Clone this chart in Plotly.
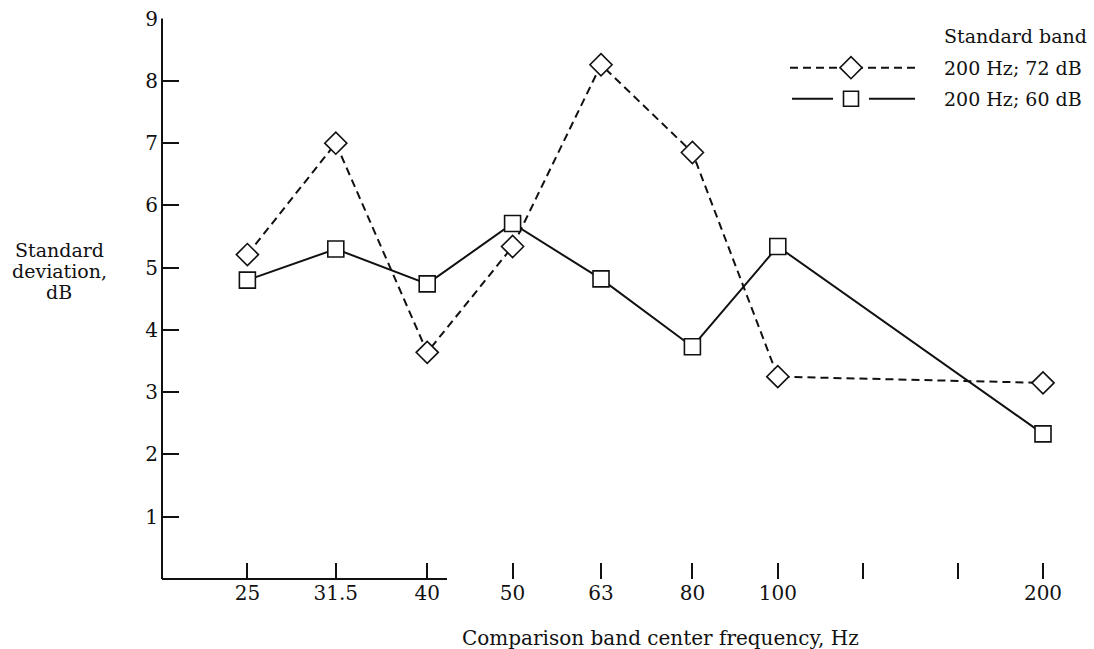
import math
import plotly.graph_objects as go

# ---- data ----
freqs = [25, 31.5, 40, 50, 63, 80, 100, 200]
sd_72db = [5.21, 7.0, 3.64, 5.34, 8.26, 6.85, 3.25, 3.15]
sd_60db = [4.80, 5.30, 4.74, 5.71, 4.82, 3.73, 5.34, 2.33]
x_tickvals = [25, 31.5, 40, 50, 63, 80, 100, 125, 160, 200]
x_ticktext = ["25", "31.5", "40", "50", "63", "80", "100", "", "", "200"]
y_tickvals = [1, 2, 3, 4, 5, 6, 7, 8, 9]
legend_title = "Standard band"
name_72 = "200 Hz; 72 dB"
name_60 = "200 Hz; 60 dB"
x_title = "Comparison band center frequency, Hz"
y_title_lines = ["Standard", "deviation,", "dB"]

FONT = "DejaVu Serif"
INK = "#111111"
FS = 20
FS_SMALL = 19

W, H = 1094, 649
L, R, T, B = 162, 1060, 19, 579
YMAX = 9.01
T_ADJ = T - (YMAX - 9) * (B - T) / 9  # keep 9 at the same pixel


def px(xs):
    return (xs - L) / (R - L)


def py(ys):
    return (B - ys) / (B - T_ADJ)


fig = go.Figure()

fig.add_trace(go.Scatter(
    x=freqs, y=sd_72db, mode="lines+markers", name=name_72,
    line=dict(color=INK, width=2, dash="8px,5px"),
    marker=dict(symbol="diamond", size=17, color="white",
                line=dict(color=INK, width=1.6)),
    showlegend=False,
))
fig.add_trace(go.Scatter(
    x=freqs, y=sd_60db, mode="lines+markers", name=name_60,
    line=dict(color=INK, width=2),
    marker=dict(symbol="square", size=16, color="white",
                line=dict(color=INK, width=1.6)),
    showlegend=False,
))

# ---- hand-made legend on an overlay axis in screenshot pixels ----
fig.add_trace(go.Scatter(x=[790, 915], y=[68, 68], xaxis="x2", yaxis="y2",
                         mode="lines", line=dict(color=INK, width=2, dash="8px,5px"),
                         showlegend=False, hoverinfo="skip"))
fig.add_trace(go.Scatter(x=[851], y=[68], xaxis="x2", yaxis="y2", mode="markers",
                         marker=dict(symbol="diamond", size=17, color="white",
                                     line=dict(color=INK, width=1.6)),
                         showlegend=False, hoverinfo="skip"))
fig.add_trace(go.Scatter(x=[792, 833, None, 869, 915], y=[99, 99, None, 99, 99],
                         xaxis="x2", yaxis="y2", mode="lines",
                         line=dict(color=INK, width=2),
                         showlegend=False, hoverinfo="skip"))
fig.add_trace(go.Scatter(x=[851], y=[99], xaxis="x2", yaxis="y2", mode="markers",
                         marker=dict(symbol="square", size=15, color="white",
                                     line=dict(color=INK, width=1.6)),
                         showlegend=False, hoverinfo="skip"))

small_font = dict(family=FONT, size=FS_SMALL, color=INK)
for txt, yy in [(legend_title, 36), (name_72, 68), (name_60, 99)]:
    fig.add_annotation(x=px(942), y=py(yy), xref="paper", yref="paper", text=txt,
                       showarrow=False, xanchor="left", yanchor="middle", font=small_font)

for txt, yy in zip(y_title_lines, [250, 271, 292]):
    fig.add_annotation(x=px(59), y=py(yy), xref="paper", yref="paper",
                       text=txt, showarrow=False,
                       xanchor="center", yanchor="middle", font=small_font)
fig.add_annotation(x=px(660), y=py(638), xref="paper", yref="paper",
                   text=x_title, showarrow=False,
                   xanchor="center", yanchor="middle",
                   font=dict(family=FONT, size=FS, color=INK))

# partial x-axis baseline (as in the original drawing)
fig.add_shape(type="line", xref="paper", yref="paper",
              x0=0, x1=px(447), y0=0, y1=0,
              line=dict(color=INK, width=2))

fig.update_layout(
    width=W, height=H,
    margin=dict(l=L, r=W - R, t=T_ADJ, b=H - B, pad=0),
    paper_bgcolor="white", plot_bgcolor="white",
    font=dict(family=FONT, size=FS, color=INK),
    xaxis=dict(type="log", range=[math.log10(20), math.log10(20) + (R - L) / 881.0],
               tickvals=x_tickvals, ticktext=x_ticktext,
               ticks="inside", ticklen=16, tickwidth=1.5, tickcolor=INK,
               showline=False, showgrid=False, zeroline=False, automargin=False,
               tickfont=dict(family=FONT, size=FS, color=INK)),
    yaxis=dict(range=[0, YMAX], tickvals=y_tickvals,
               ticks="inside", ticklen=17, tickwidth=1.5, tickcolor=INK,
               showline=False, showgrid=False, zeroline=False, automargin=False,
               ticklabelstandoff=3,
               tickfont=dict(family=FONT, size=FS, color=INK)),
    xaxis2=dict(overlaying="x", anchor="y2", range=[L, R],
                visible=False, fixedrange=True, automargin=False),
    yaxis2=dict(overlaying="y", anchor="x2", range=[B, T_ADJ],
                visible=False, fixedrange=True, automargin=False),
)

# y-axis line from 0 up to the 9 tick
fig.add_shape(type="line", xref="paper", yref="paper",
              x0=0, x1=0, y0=0, y1=py(T),
              line=dict(color=INK, width=2))

fig.write_html("out.html",
               config={"displayModeBar": False},
               post_script="document.body.style.margin='0px';"
                           "document.body.style.overflow='hidden';")
